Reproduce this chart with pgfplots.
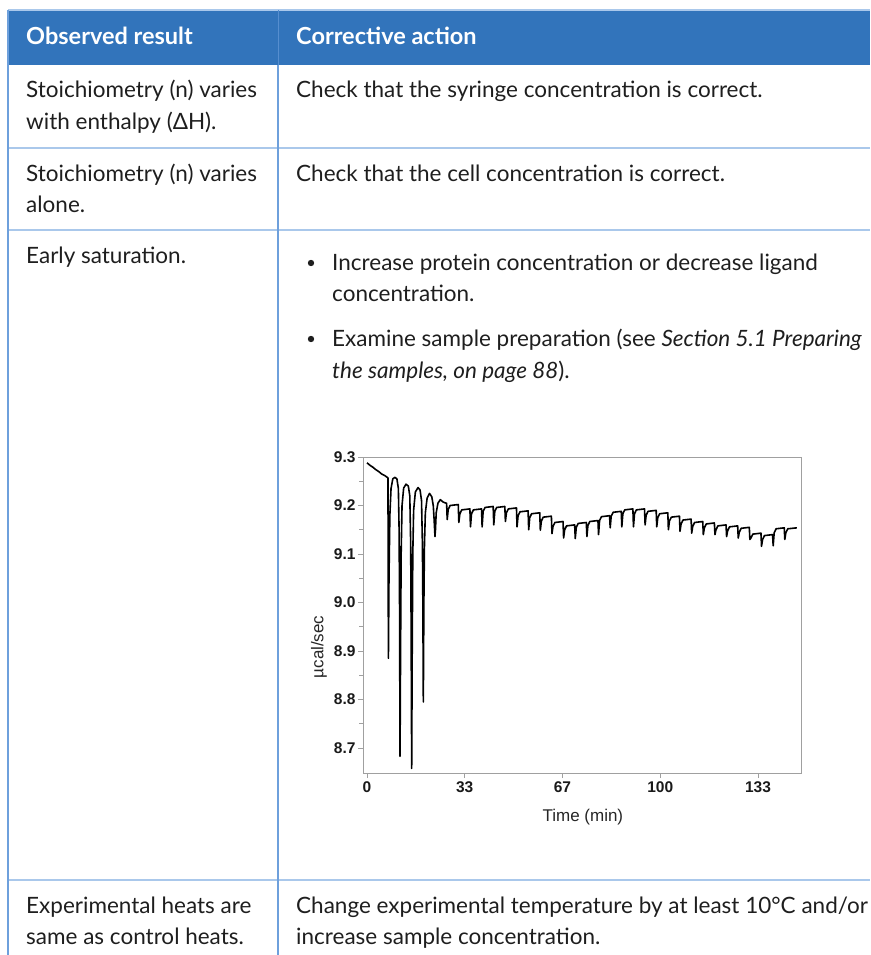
\documentclass[border=0pt]{standalone}
\usepackage{fontspec}
\setmainfont{Lato}
\newfontfamily\chartfont{Liberation Sans}
\usepackage{pgfplots}
\pgfplotsset{compat=1.18}

\definecolor{headBlue}{RGB}{50,116,187}
\definecolor{ruleV}{RGB}{110,160,220}
\definecolor{ruleH}{RGB}{170,200,235}
\definecolor{txt}{RGB}{30,30,30}
\definecolor{frameGrey}{RGB}{160,160,160}

\begin{document}
\begin{tikzpicture}
\clip (0pt,0pt) rectangle (870pt,-955pt);

% table
\begin{scope}[x=1pt, y=-1pt,
  cell/.style={anchor=base west, inner sep=0pt, text=txt, font=\fontsize{22.5}{26}\selectfont},
  head/.style={anchor=base west, inner sep=0pt, text=white, font=\bfseries\fontsize{23.5}{26}\selectfont}]
\fill[headBlue] (8,10) rectangle (870,65);
\draw[ruleH, line width=1.2] (8,10) -- (870,10);
\draw[ruleH, line width=1.2] (8,148) -- (870,148) (8,230) -- (870,230) (8,880) -- (870,880);
\draw[ruleV, line width=1.2] (8,10) -- (8,955) (278,65) -- (278,955);
\draw[ruleV!60!headBlue, line width=0.8] (278,10) -- (278,65);

\node[head] at (26,45) {Observed result};
\node[head] at (296,45) {Corrective action};

\node[cell] at (26,98) {Stoichiometry (n) varies};
\node[cell] at (26,129) {with enthalpy (ΔH).};
\node[cell] at (296,98) {Check that the syringe concentration is correct.};

\node[cell] at (26,181) {Stoichiometry (n) varies};
\node[cell] at (26,212) {alone.};
\node[cell] at (296,181) {Check that the cell concentration is correct.};

\node[cell] at (26,263) {Early saturation.};
\fill[txt] (311,263) circle (3.2);
\node[cell] at (332,270) {Increase protein concentration or decrease ligand};
\node[cell] at (332,301) {concentration.};
\fill[txt] (311,339) circle (3.2);
\node[cell] at (332,346) {Examine sample preparation (see \textit{Section 5.1 Preparing}};
\node[cell] at (332,378) {\textit{the samples, on page 88}).};

\node[cell] at (26,913) {Experimental heats are};
\node[cell] at (26,944) {same as control heats.};
\node[cell] at (296,913) {Change experimental temperature by at least 10°C and/or};
\node[cell] at (296,944) {increase sample concentration.};
\end{scope}

% chart
\begin{axis}[
  at={(363pt,-773pt)}, anchor=south west,
  width=438pt, height=316pt, scale only axis,
  xmin=-1.36, xmax=148, ymin=8.6485, ymax=9.3,
  axis line style={frameGrey, line width=1pt},
  every tick/.style={frameGrey, line width=0.8pt},
  tick align=outside, tick pos=left,
  major tick length=5pt, minor tick length=4pt,
  xtick={0,33.333,66.667,100,133.333},
  xticklabels={0,33,67,100,133},
  minor x tick num=1,
  ytick={8.7,8.8,8.9,9.0,9.1,9.2,9.3},
  yticklabels={8.7,8.8,8.9,9.0,9.1,9.2,9.3},
  minor y tick num=1,
  ticklabel style={font=\chartfont\bfseries\fontsize{15.5}{16}\selectfont, text=black!90},
  yticklabel style={xshift=1pt},
  xlabel={Time (min)}, ylabel={µcal/sec},
  label style={font=\chartfont\fontsize{17}{18}\selectfont, text=black!85},
  xlabel style={at={(axis description cs:0.502,-0.139)}, anchor=center},
  ylabel style={at={(axis description cs:-0.1005,0.399)}, anchor=center},
]
\addplot[black, line width=1.6pt, line join=round] coordinates {
(0,9.288) (1,9.283) (2,9.279) (3,9.274) (4,9.270) (5,9.265) (6,9.262) (7.15,9.257)
(7.30,8.885) (7.5,9.05) (7.8,9.18) (8.2,9.235) (8.8,9.255) (9.5,9.258) (10.2,9.255) (10.7,9.235) (10.95,9.15) (11.1,9.0)
(11.27,8.683) (11.45,8.9) (11.65,9.1) (11.95,9.2) (12.5,9.236) (13.3,9.244) (14.1,9.24) (14.6,9.22) (14.9,9.12) (15.05,8.95)
(15.24,8.658) (15.42,8.9) (15.62,9.1) (15.9,9.19) (16.5,9.228) (17.4,9.237) (18.1,9.232) (18.6,9.21) (18.9,9.12) (19.05,9.0)
(19.21,8.795) (19.4,9.0) (19.6,9.12) (19.9,9.185) (20.5,9.215) (21.3,9.225) (22.1,9.218) (22.6,9.2) (22.9,9.17)
(23.18,9.136) (23.35,9.15) (23.6,9.185) (24.2,9.205) (25.0,9.212) (26.0,9.207) (26.9,9.205)
(27.15,9.205) (27.35,9.171) (27.70,9.192) (28.35,9.200)
(31.12,9.202) (31.32,9.165) (31.67,9.183) (32.32,9.191)
(35.09,9.193) (35.29,9.156) (35.64,9.183) (36.29,9.191)
(39.06,9.193) (39.26,9.156) (39.61,9.188) (40.26,9.196)
(43.03,9.198) (43.23,9.160) (43.58,9.188) (44.23,9.196)
(47.00,9.198) (47.20,9.167) (47.55,9.185) (48.20,9.193)
(50.97,9.195) (51.17,9.156) (51.52,9.179) (52.17,9.187)
(54.94,9.189) (55.14,9.150) (55.49,9.175) (56.14,9.183)
(58.91,9.185) (59.11,9.149) (59.46,9.168) (60.11,9.176)
(62.88,9.178) (63.08,9.142) (63.43,9.157) (64.08,9.165)
(66.85,9.167) (67.05,9.133) (67.40,9.150) (68.05,9.158)
(70.82,9.160) (71.02,9.132) (71.37,9.155) (72.02,9.163)
(74.79,9.165) (74.99,9.136) (75.34,9.159) (75.99,9.167)
(78.76,9.169) (78.96,9.140) (79.31,9.169) (79.96,9.177)
(82.73,9.179) (82.93,9.154) (83.28,9.178) (83.93,9.186)
(86.70,9.188) (86.90,9.156) (87.25,9.183) (87.90,9.191)
(90.67,9.193) (90.87,9.156) (91.22,9.183) (91.87,9.191)
(94.64,9.193) (94.84,9.160) (95.19,9.180) (95.84,9.188)
(98.61,9.190) (98.81,9.156) (99.16,9.175) (99.81,9.183)
(102.58,9.185) (102.78,9.150) (103.13,9.168) (103.78,9.176)
(106.55,9.178) (106.75,9.147) (107.10,9.162) (107.75,9.170)
(110.52,9.172) (110.72,9.143) (111.07,9.157) (111.72,9.165)
(114.49,9.167) (114.69,9.140) (115.04,9.154) (115.69,9.162)
(118.46,9.164) (118.66,9.140) (119.01,9.150) (119.66,9.158)
(122.43,9.160) (122.63,9.136) (122.98,9.148) (123.63,9.156)
(126.40,9.158) (126.60,9.133) (126.95,9.145) (127.60,9.153)
(130.37,9.155) (130.57,9.130) (130.92,9.133) (131.57,9.141)
(134.34,9.143) (134.54,9.116) (134.89,9.130) (135.54,9.138)
(138.31,9.140) (138.51,9.117) (138.86,9.144) (139.51,9.152)
(142.28,9.154) (142.48,9.130) (142.83,9.144) (143.48,9.152)
(146.6,9.154)
};
\end{axis}
\end{tikzpicture}
\end{document}
